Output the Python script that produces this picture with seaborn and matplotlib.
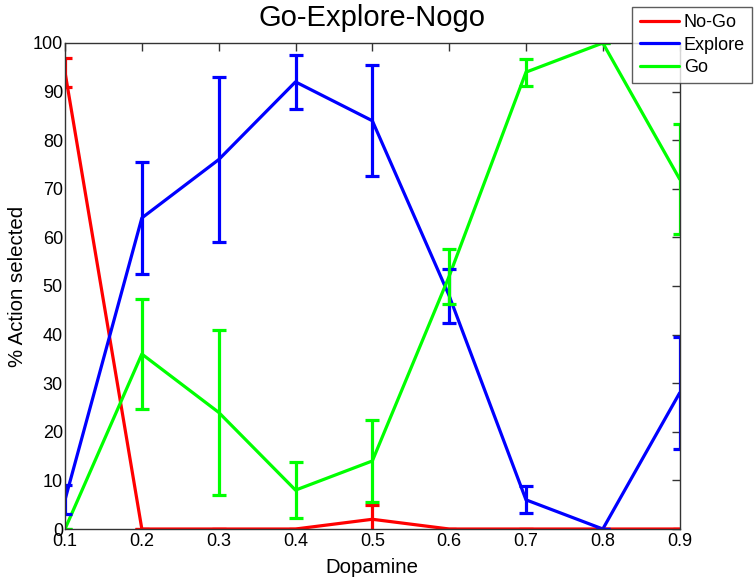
import numpy as np
import pandas as pd
import seaborn as sns
import matplotlib
matplotlib.use("Agg")
import matplotlib.pyplot as plt

dopamine = [0.1, 0.2, 0.3, 0.4, 0.5, 0.6, 0.7, 0.8, 0.9]

nogo = [94, 0, 0, 0, 2, 0, 0, 0, 0]
nogo_err = [3, 0, 0, 0, 3, 0, 0, 0, 0]

explore = [6, 64, 76, 92, 84, 48, 6, 0, 28]
explore_err = [3, 11.5, 17, 5.6, 11.4, 5.6, 2.8, 0, 11.5]

go = [0, 36, 24, 8, 14, 52, 94, 100, 72]
go_err = [0, 11.4, 17, 5.7, 8.5, 5.7, 2.8, 0, 11.4]

series = ['No-Go', 'Explore', 'Go']
colors = {'No-Go': '#ff0000', 'Explore': '#0000ff', 'Go': '#00ff00'}

df = pd.DataFrame({
    'Dopamine': dopamine * 3,
    'value': nogo + explore + go,
    'err': nogo_err + explore_err + go_err,
    'Action': ['No-Go'] * 9 + ['Explore'] * 9 + ['Go'] * 9,
})

sns.set_style('white')
plt.rcParams['font.family'] = ['Liberation Sans', 'DejaVu Sans']
plt.rcParams['text.color'] = 'black'
plt.rcParams['axes.labelcolor'] = 'black'
plt.rcParams['xtick.color'] = 'black'
plt.rcParams['ytick.color'] = 'black'

fig = plt.figure(figsize=(7.56, 5.81), dpi=100)
ax = fig.add_axes([0.086, 0.0895, 0.813, 0.8365])

sns.lineplot(data=df, x='Dopamine', y='value', hue='Action', hue_order=series,
             palette=colors, linewidth=2.3, errorbar=None, ax=ax, legend=False)

# error bars, MATLAB style
for name in series:
    sub = df[df['Action'] == name]
    ax.errorbar(sub['Dopamine'], sub['value'], yerr=sub['err'], fmt='none',
                ecolor=colors[name], elinewidth=2.3, capsize=4.8, capthick=2.3)

ax.set_xlim(0.1, 0.9)
ax.set_ylim(0, 100)
ax.set_xticks(dopamine)
ax.set_xticklabels([f'{v:.1f}' for v in dopamine])
ax.set_yticks(range(0, 101, 10))
ax.tick_params(direction='in', length=6, width=1, top=True, right=True,
               labelsize=13, color='#333333')
ax.tick_params(axis='x', pad=3)
ax.tick_params(axis='y', pad=1.5)
for s in ax.spines.values():
    s.set_color('#333333')
    s.set_linewidth(1)

ax.set_xlabel('Dopamine', fontsize=14.7, labelpad=5.5)
ax.set_ylabel('% Action selected', fontsize=14.7, labelpad=4)
ax.set_title('Go-Explore-Nogo', fontsize=21, pad=12)

handles = [plt.Line2D([], [], color=colors[n], linewidth=2.3) for n in series]
leg = fig.legend(handles, series, loc='upper right', bbox_to_anchor=(0.995, 0.988),
                 fontsize=13, frameon=True, fancybox=False, handlelength=2.2,
                 borderpad=0.4, labelspacing=0.3, handletextpad=0.25, borderaxespad=0)
leg.get_frame().set_edgecolor('#333333')
leg.get_frame().set_linewidth(1)

fig.savefig('out.png', dpi=100)
